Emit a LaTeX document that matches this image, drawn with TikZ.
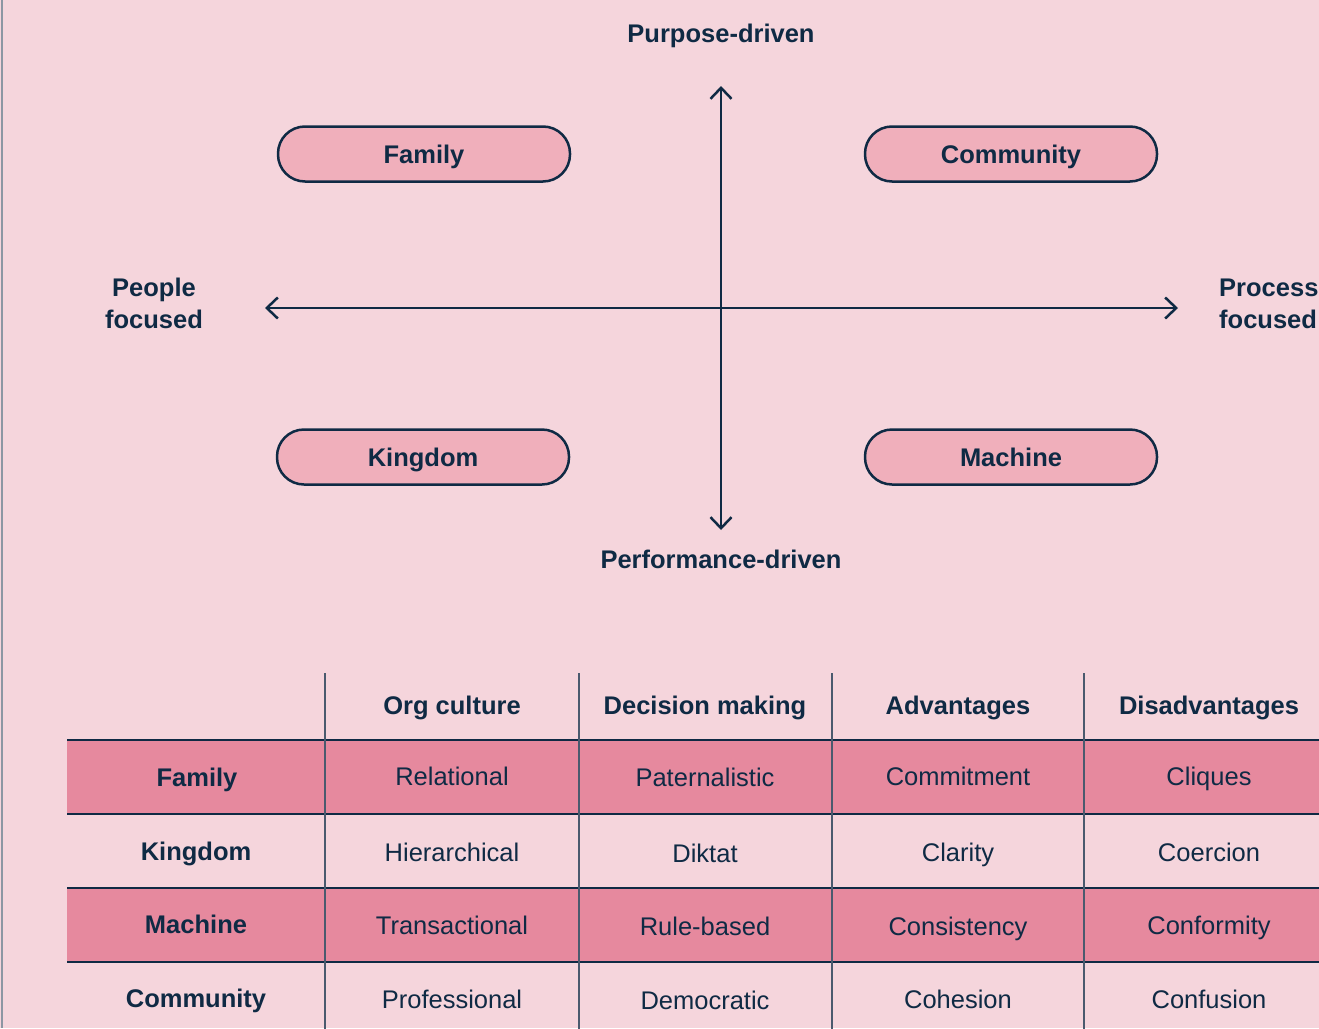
\documentclass[tikz,border=0pt]{standalone}
\usepackage{fontspec}
\setmainfont{Liberation Sans}
\usetikzlibrary{arrows.meta}
\definecolor{bg}{HTML}{F5D5DC}
\definecolor{pill}{HTML}{F0AFBB}
\definecolor{rowc}{HTML}{E6899E}
\definecolor{navy}{HTML}{0F2A44}
\definecolor{vline}{HTML}{4A5A6E}
\definecolor{border}{HTML}{8C96A3}
\begin{document}
\begin{tikzpicture}[x=1pt,y=-1pt,
  txt/.style={text=navy, inner sep=0pt, text height=18pt, text depth=0pt, font=\fontsize{25.5}{32}\selectfont},
  lbl/.style={txt, font=\fontsize{25.5}{32}\selectfont\bfseries},
  cell/.style={txt},
  hcell/.style={lbl},
  pillbox/.style={lbl, draw=navy, line width=2.5pt, fill=pill, rounded corners=27pt,
    minimum width=292pt, minimum height=55pt},
  axis/.style={draw=navy, line width=2.5pt,
    {Straight Barb[length=11pt,width=21pt]}-{Straight Barb[length=11pt,width=21pt]}},
  hrule/.style={draw=navy, line width=1.8pt},
  vrule/.style={draw=vline, line width=1.5pt},
  rowfill/.style={fill=rowc}
]
\useasboundingbox (0,0) rectangle (1319,1028);
\clip (0,0) rectangle (1319,1028);
\fill[bg] (0,0) rectangle (1319,1028);
\draw[border, line width=2pt] (2,0) -- (2,1028);

% axes
\coordinate (vtop) at (721,86);
\coordinate (vbot) at (721,530);
\coordinate (hl) at (265,308);
\coordinate (hr) at (1178,308);
\draw[axis] (vbot) -- (vtop);
\draw[axis] (hl) -- (hr);

\node[lbl] (purpose) at (721,33) {Purpose-driven};
\node[lbl] (perf) at (721,559) {Performance-driven};
\node[lbl, align=center] (people) at (154,319) {People\\focused};
\node[lbl, align=left, anchor=west] (process) at (1219,319) {Process\\focused};

% quadrants
\node[pillbox] (pfamily) at (424,154) {Family};
\node[pillbox] (pcommunity) at (1011,154) {Community};
\node[pillbox] (pkingdom) at (423,457) {Kingdom};
\node[pillbox] (pmachine) at (1011,457) {Machine};

% table
\fill[rowfill] (67,740) rectangle (1330,814);
\fill[rowfill] (67,888) rectangle (1330,962);
\foreach \y in {740,814,888,962} \draw[hrule] (67,\y) -- (1330,\y);
\foreach \x in {325,579,832,1084} \draw[vrule] (\x,673) -- (\x,1030);

\node[hcell] (h1) at (452,705) {Org culture};
\node[hcell] (h2) at (705,705) {Decision making};
\node[hcell] (h3) at (958,705) {Advantages};
\node[hcell] (h4) at (1209,705) {Disadvantages};

\node[hcell] (r1) at (197,777) {Family};
\node[cell] (r1c1) at (452,776) {Relational};
\node[cell] (r1c2) at (705,777) {Paternalistic};
\node[cell] (r1c3) at (958,776) {Commitment};
\node[cell] (r1c4) at (1209,776) {Cliques};

\node[hcell] (r2) at (196,851) {Kingdom};
\node[cell] (r2c1) at (452,852) {Hierarchical};
\node[cell] (r2c2) at (705,853) {Diktat};
\node[cell] (r2c3) at (958,852) {Clarity};
\node[cell] (r2c4) at (1209,852) {Coercion};

\node[hcell] (r3) at (196,924) {Machine};
\node[cell] (r3c1) at (452,925) {Transactional};
\node[cell] (r3c2) at (705,926) {Rule-based};
\node[cell] (r3c3) at (958,926) {Consistency};
\node[cell] (r3c4) at (1209,925) {Conformity};

\node[hcell] (r4) at (196,998) {Community};
\node[cell] (r4c1) at (452,999) {Professional};
\node[cell] (r4c2) at (705,1000) {Democratic};
\node[cell] (r4c3) at (958,999) {Cohesion};
\node[cell] (r4c4) at (1209,999) {Confusion};
\end{tikzpicture}
\end{document}
